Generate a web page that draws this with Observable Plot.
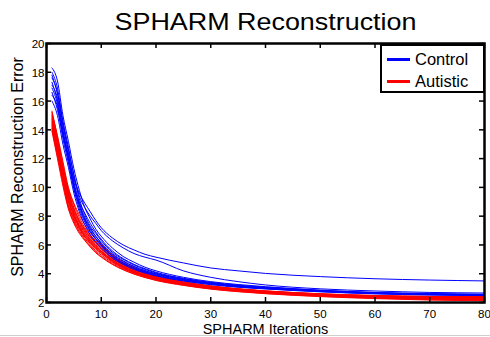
<!DOCTYPE html>
<html>
<head>
<meta charset="utf-8">
<script src="https://cdn.jsdelivr.net/npm/d3@7"></script>
<script src="https://cdn.jsdelivr.net/npm/@observablehq/plot@0.6"></script>
<style>
  html, body { margin: 0; padding: 0; background: #fff; }
  #wrap { position: relative; width: 490px; height: 337px; font-family: "Liberation Sans", Arial, sans-serif; overflow: hidden; }
  #wrap svg text { font-family: "Liberation Sans", Arial, sans-serif; }
  #legend { position: absolute; left: 380px; top: 44px; width: 101px; height: 45px; border: 2px solid #000; background: #fff; }
  .row { position: absolute; left: 0; height: 20px; display: flex; align-items: center; font-size: 16.5px; color: #000; }
  .sw { width: 23px; height: 3px; margin-left: 5px; margin-right: 5px; }
  #sep { position: absolute; left: 0; top: 335px; width: 490px; height: 1px; background: #cfcfcf; }
</style>
</head>
<body>
<div id="wrap"></div>
<script>
const titleText = "SPHARM Reconstruction";
const xLabel = "SPHARM Iterations";
const yLabel = "SPHARM Reconstruction Error";
const seriesNames = ["Control", "Autistic"];
const seriesColors = ["#0000ff", "#ff0000"];
const xTicks = [0, 10, 20, 30, 40, 50, 60, 70, 80];
const yTicks = [2, 4, 6, 8, 10, 12, 14, 16, 18, 20];

// iteration values at which the curves were read
const xs = [1,2,3,4,5,6,7,8,9,10,12,14,16,18,20,25,30,35,40,50,60,70,80];

// Control subjects
const control = [
  [16.6,15.4,13.6,12.1,10.6,9.6,8.9,8.3,7.7,7.2,6.5,6.0,5.65,5.35,5.15,4.75,4.4,4.2,4.02,3.8,3.65,3.56,3.5],
  [17.6,16.6,14.3,12.6,10.9,9.4,8.6,8.0,7.5,7.0,6.3,5.8,5.4,5.15,4.95,4.2,3.75,3.45,3.22,2.95,2.8,2.7,2.66],
  [18.3,17.4,15.0,13.2,11.3,9.8,8.6,7.8,7.1,6.6,5.8,5.2,4.8,4.45,4.2,3.75,3.45,3.25,3.1,2.86,2.7,2.62,2.57],
  [18.0,16.9,14.6,12.8,10.8,9.2,8.1,7.3,6.8,6.3,5.5,5.0,4.6,4.3,4.05,3.65,3.38,3.18,3.04,2.82,2.67,2.59,2.55],
  [17.1,16.2,14.0,12.2,10.2,8.9,7.9,7.2,6.6,6.1,5.35,4.85,4.5,4.2,3.98,3.6,3.33,3.14,3.01,2.8,2.65,2.57,2.53],
  [16.4,15.6,13.4,11.7,9.9,8.5,7.6,6.9,6.4,5.95,5.25,4.75,4.42,4.15,3.93,3.55,3.3,3.11,2.98,2.78,2.63,2.55,2.51],
  [17.3,16.0,13.9,11.9,10.0,8.7,7.7,7.0,6.45,6.0,5.2,4.7,4.35,4.1,3.88,3.52,3.27,3.08,2.96,2.76,2.62,2.54,2.5],
  [16.0,15.0,13.0,11.4,9.6,8.3,7.4,6.7,6.2,5.8,5.1,4.65,4.3,4.05,3.85,3.5,3.24,3.06,2.94,2.74,2.6,2.52,2.48],
  [17.8,16.5,14.5,12.4,10.4,9.0,8.2,7.5,6.9,6.4,5.6,5.05,4.65,4.35,4.1,3.68,3.4,3.2,3.06,2.84,2.69,2.6,2.56],
  [16.9,15.8,13.7,12.0,10.1,8.8,7.8,7.1,6.6,6.15,5.4,4.9,4.5,4.22,4.0,3.6,3.34,3.15,3.02,2.81,2.66,2.58,2.54]
];

// Autistic subjects
const autistic = [
  [15.3,13.5,11.6,9.8,8.6,7.7,7.1,6.6,6.2,5.9,5.2,4.7,4.35,4.05,3.8,3.4,3.12,2.93,2.8,2.6,2.48,2.42,2.4],
  [15.0,13.2,11.2,9.5,8.3,7.5,6.9,6.4,6.0,5.7,5.05,4.6,4.25,3.98,3.75,3.35,3.08,2.9,2.76,2.56,2.44,2.37,2.34],
  [14.8,12.9,11.0,9.3,8.0,7.3,6.7,6.25,5.85,5.55,4.95,4.5,4.15,3.9,3.68,3.3,3.04,2.86,2.72,2.52,2.4,2.32,2.28],
  [14.4,12.6,10.7,9.0,7.8,7.1,6.55,6.1,5.7,5.4,4.85,4.42,4.1,3.85,3.63,3.27,3.01,2.83,2.69,2.49,2.36,2.28,2.23],
  [14.2,12.4,10.5,8.8,7.7,7.0,6.45,6.0,5.6,5.3,4.78,4.36,4.05,3.8,3.59,3.24,2.98,2.8,2.66,2.46,2.33,2.24,2.19],
  [14.0,12.2,10.3,8.6,7.6,6.9,6.35,5.9,5.5,5.2,4.7,4.3,4.0,3.76,3.56,3.21,2.95,2.77,2.63,2.43,2.3,2.2,2.15],
  [15.1,13.4,11.4,9.9,8.8,7.9,7.2,6.7,6.3,5.95,5.25,4.75,4.38,4.08,3.84,3.42,3.14,2.94,2.79,2.59,2.46,2.39,2.36],
  [14.6,12.8,10.9,9.4,8.4,7.6,7.0,6.5,6.1,5.75,5.1,4.62,4.27,4.0,3.77,3.37,3.1,2.91,2.76,2.55,2.42,2.34,2.3],
  [13.9,12.0,10.1,8.5,7.5,6.8,6.3,5.85,5.45,5.15,4.65,4.27,3.97,3.73,3.53,3.19,2.93,2.75,2.61,2.41,2.27,2.17,2.12],
  [14.7,13.0,11.3,9.7,8.5,7.7,7.05,6.55,6.15,5.8,5.15,4.66,4.3,4.02,3.79,3.38,3.11,2.92,2.77,2.57,2.44,2.36,2.32],
  [14.3,12.5,10.6,9.1,8.1,7.3,6.75,6.3,5.9,5.55,4.95,4.5,4.17,3.9,3.68,3.3,3.03,2.85,2.71,2.5,2.37,2.29,2.25],
  [15.2,13.6,11.8,10.0,8.9,8.1,7.4,6.85,6.4,6.05,5.3,4.8,4.42,4.12,3.87,3.45,3.16,2.96,2.81,2.61,2.49,2.43,2.41],
  [14.1,12.3,10.4,8.7,7.9,7.2,6.6,6.15,5.75,5.45,4.85,4.4,4.08,3.83,3.62,3.26,2.99,2.81,2.67,2.47,2.34,2.25,2.2],
  [14.9,13.1,11.1,9.6,8.2,7.4,6.85,6.35,5.95,5.6,5.0,4.55,4.2,3.93,3.71,3.32,3.06,2.88,2.74,2.54,2.42,2.35,2.32],
  [14.5,12.7,10.8,9.2,8.0,7.2,6.6,6.2,5.8,5.5,4.9,4.45,4.12,3.87,3.65,3.28,3.02,2.84,2.7,2.5,2.38,2.3,2.26]
];

function toRows(curves, group) {
  const rows = [];
  curves.forEach((vals, k) => {
    vals.forEach((v, i) => rows.push({group, id: group + k, x: xs[i], y: v}));
  });
  return rows;
}
const controlRows = toRows(control, seriesNames[0]);
const autisticRows = toRows(autistic, seriesNames[1]);

const fontFamily = '"Liberation Sans", Arial, sans-serif';
const W = 490, H = 337, mT = 43, mB = 35, mL = 46, mR = 6;
const frameH = H - mT - mB, frameW = W - mL - mR;
const tickLen = 5;

const chart = Plot.plot({
  width: W, height: H,
  marginTop: mT, marginBottom: mB, marginLeft: mL, marginRight: mR,
  style: {fontFamily, background: "#fff", color: "#000"},
  x: {domain: [0, 80]},
  y: {domain: [2, 20]},
  marks: [
    Plot.line(autisticRows, {x: "x", y: "y", z: "id", stroke: seriesColors[1], strokeWidth: 1, curve: "monotone-x"}),
    Plot.line(controlRows, {x: "x", y: "y", z: "id", stroke: seriesColors[0], strokeWidth: 1, curve: "monotone-x"}),
    // inward ticks on all four sides
    Plot.tickX(xTicks, {x: d => d, insetTop: frameH - tickLen, stroke: "#000", strokeWidth: 1.5}),
    Plot.tickX(xTicks, {x: d => d, insetBottom: frameH - tickLen, stroke: "#000", strokeWidth: 1.5}),
    Plot.tickY(yTicks, {y: d => d, insetRight: frameW - tickLen, stroke: "#000", strokeWidth: 1.5}),
    Plot.tickY(yTicks, {y: d => d, insetLeft: frameW - tickLen, stroke: "#000", strokeWidth: 1.5}),
    Plot.axisX({ticks: xTicks, tickSize: 0, tickPadding: 7, fontSize: 11.5, label: null}),
    Plot.axisY({ticks: yTicks, tickSize: 0, tickPadding: 2, fontSize: 11.5, label: null, dy: 1}),
    Plot.frame({stroke: "#000", strokeWidth: 2.5}),
    Plot.text([titleText], {frameAnchor: "top", dy: -14, lineAnchor: "bottom", textAnchor: "middle", fontSize: 24, fill: "#000"}),
    Plot.text([xLabel], {frameAnchor: "bottom", dy: 21, lineAnchor: "top", textAnchor: "middle", fontSize: 14.5, fill: "#000"}),
    Plot.text([yLabel], {frameAnchor: "left", dx: -29, dy: -6, rotate: -90, lineAnchor: "middle", textAnchor: "middle", fontSize: 16, fill: "#000"})
  ]
});

const wrap = document.getElementById("wrap");
wrap.appendChild(chart);

d3.select(chart).selectAll("text").filter(function() { return this.textContent === titleText; })
  .attr("textLength", 302).attr("lengthAdjust", "spacingAndGlyphs");

// legend
const legend = document.createElement("div");
legend.id = "legend";
seriesNames.forEach((name, i) => {
  const row = document.createElement("div");
  row.className = "row";
  row.style.top = (3 + i * 22) + "px";
  const sw = document.createElement("div");
  sw.className = "sw";
  sw.style.background = seriesColors[i];
  const label = document.createElement("span");
  label.textContent = name;
  row.appendChild(sw);
  row.appendChild(label);
  legend.appendChild(row);
});
wrap.appendChild(legend);

const sep = document.createElement("div");
sep.id = "sep";
wrap.appendChild(sep);
</script>
</body>
</html>
